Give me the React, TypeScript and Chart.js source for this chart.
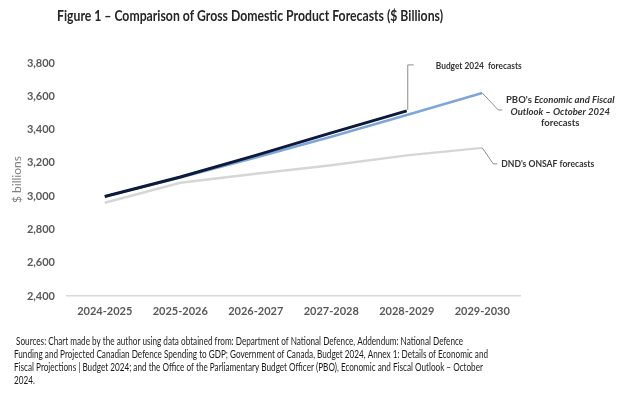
import { useEffect, useRef } from "react";
import { Chart, registerables } from "chart.js";

Chart.register(...registerables);

const categories = ["2024-2025", "2025-2026", "2026-2027", "2027-2028", "2028-2029", "2029-2030"];
const budget2024 = [2998, 3115, 3245, 3380, 3512, null];
const pboEfo = [2998, 3112, 3232, 3357, 3488, 3620];
const dndOnsaf = [2960, 3080, 3135, 3185, 3245, 3290];
const yTicks = [2400, 2600, 2800, 3000, 3200, 3400, 3600, 3800];

const titleText = "Figure 1 – Comparison of Gross Domestic Product Forecasts ($ Billions)";
const yTitle = "$ billions";
const sourceLines = [
  " Sources: Chart made by the author using data obtained from: Department of National Defence, Addendum: National Defence",
  "Funding and Projected Canadian Defence Spending to GDP; Government of Canada, Budget 2024, Annex 1: Details of Economic and",
  "Fiscal Projections | Budget 2024; and the Office of the Parliamentary Budget Officer (PBO), Economic and Fiscal Outlook – October",
  "2024.",
];

const FONT = "Lato, 'Open Sans', sans-serif";

const overlayPlugin = {
  id: "overlay",
  afterDraw(chart: any) {
    const ctx = chart.ctx;
    const x = chart.scales.x;
    const y = chart.scales.y;
    ctx.save();
    // Title
    ctx.fillStyle = "#262626";
    ctx.font = `bold 16px ${FONT}`;
    ctx.textBaseline = "middle";
    ctx.textAlign = "left";
    ctx.fillText(titleText, 57, 16, 386);

    // Y title
    ctx.save();
    ctx.translate(17, (y.top + y.bottom) / 2);
    ctx.rotate(-Math.PI / 2);
    ctx.textAlign = "center";
    ctx.fillStyle = "#808080";
    ctx.font = `12px ${FONT}`;
    ctx.fillText(yTitle, 0, 0);
    ctx.restore();

    // Sources
    ctx.fillStyle = "#1a1a1a";
    ctx.font = `11.5px ${FONT}`;
    const factor = 474 / ctx.measureText(sourceLines[1]).width;
    const ys = [341, 354, 367, 380];
    sourceLines.forEach((l, i) => {
      ctx.save();
      ctx.translate(14, ys[i]);
      ctx.scale(factor, 1);
      ctx.fillText(l, 0, 0);
      ctx.restore();
    });

    // Callouts
    ctx.strokeStyle = "#8c8c8c";
    ctx.lineWidth = 1;
    const bx = x.getPixelForValue(4);
    const by = y.getPixelForValue(budget2024[4] as number);
    ctx.beginPath();
    ctx.moveTo(bx + 1, by - 1);
    ctx.lineTo(bx + 1, by - 46);
    ctx.lineTo(bx + 7, by - 46);
    ctx.stroke();

    const px = x.getPixelForValue(5);
    const py = y.getPixelForValue(pboEfo[5]);
    ctx.beginPath();
    ctx.moveTo(px, py);
    ctx.lineTo(px + 16, py + 17);
    ctx.lineTo(px + 20, py + 17);
    ctx.stroke();

    const dy = y.getPixelForValue(dndOnsaf[5]);
    ctx.beginPath();
    ctx.moveTo(px, dy);
    ctx.lineTo(px + 11, dy + 16);
    ctx.lineTo(px + 15, dy + 16);
    ctx.stroke();

    ctx.fillStyle = "#333333";
    ctx.font = `bold 9.5px ${FONT}`;
    ctx.textAlign = "left";
    ctx.fillText("Budget 2024  forecasts", bx + 29, by - 45, 86);

    const cx = px + 78;
    const italicPart = "Economic and Fiscal";
    const prefix = "PBO's ";
    ctx.font = `bold 9.5px ${FONT}`;
    const wPre = ctx.measureText(prefix).width;
    ctx.font = `italic bold 9.5px ${FONT}`;
    const wIt = ctx.measureText(italicPart).width;
    const total = wPre + wIt;
    ctx.textAlign = "left";
    ctx.font = `bold 9.5px ${FONT}`;
    ctx.fillText(prefix, cx - total / 2, py + 7);
    ctx.font = `italic bold 9.5px ${FONT}`;
    ctx.fillText(italicPart, cx - total / 2 + wPre, py + 7);
    ctx.textAlign = "center";
    ctx.fillText("Outlook – October 2024", cx, py + 19);
    ctx.font = `bold 9.5px ${FONT}`;
    ctx.fillText("forecasts", cx, py + 30);

    ctx.textAlign = "left";
    ctx.fillText("DND's ONSAF forecasts", px + 19, dy + 16, 93);
    ctx.restore();
  },
};

export default function App() {
  const ref = useRef<HTMLCanvasElement>(null);
  useEffect(() => {
    if (!ref.current) return;
    const chart = new Chart(ref.current, {
      type: "line",
      data: {
        labels: categories,
        datasets: [
          {
            label: "Budget 2024 forecasts",
            data: budget2024,
            borderColor: "#0d1a3a",
            borderWidth: 3,
            pointRadius: 0,
            order: 0,
          },
          {
            label: "PBO",
            data: pboEfo,
            borderColor: "#7fa6d8",
            borderWidth: 2.5,
            pointRadius: 0,
            order: 1,
          },
          {
            label: "DND",
            data: dndOnsaf,
            borderColor: "#d6d6d6",
            borderWidth: 2.5,
            pointRadius: 0,
            order: 2,
          },
        ],
      },
      options: {
        animation: false,
        responsive: false,
        maintainAspectRatio: false,
        layout: { padding: { left: 0, right: 109, top: 63, bottom: 0 } },
        plugins: { legend: { display: false }, tooltip: { enabled: false } },
        scales: {
          x: {
            offset: true,
            grid: { display: false, drawTicks: false },
            border: { display: true, color: "#d9d9d9", width: 1.5 },
            ticks: { color: "#595959", font: { family: FONT, size: 11, weight: "bold" }, padding: 9, maxRotation: 0 },
            afterFit: (s: any) => { s.height = 100; },
          },
          y: {
            min: 2400,
            max: 3800,
            afterBuildTicks: (s: any) => { s.ticks = yTicks.map((v) => ({ value: v })); },
            grid: { display: false, drawTicks: false },
            border: { display: false },
            ticks: {
              color: "#595959",
              font: { family: FONT, size: 11, weight: "bold" },
              padding: 12,
              callback: (v: any) => Number(v).toLocaleString("en-US"),
            },
            afterFit: (s: any) => { s.width = 67; },
          },
        },
      },
      plugins: [overlayPlugin],
    });
    return () => chart.destroy();
  }, []);
  return (
    <div style={{ position: "absolute", left: 0, top: 0, width: 629, height: 396, background: "#fff" }}>
      <canvas ref={ref} width={629} height={396} style={{ width: 629, height: 396 }} />
    </div>
  );
}
